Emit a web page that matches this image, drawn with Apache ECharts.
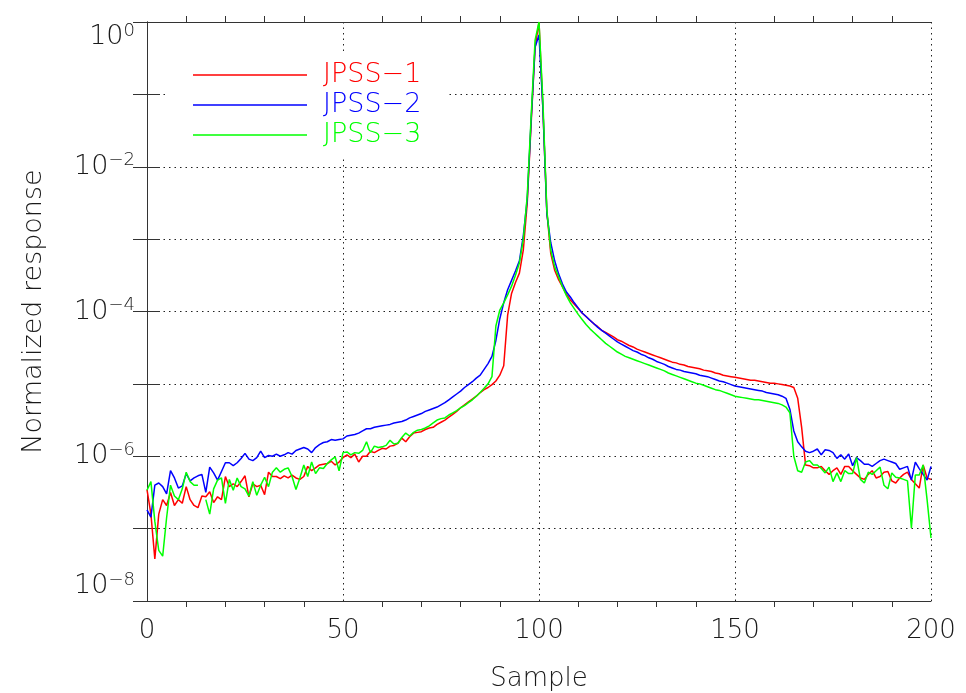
<!DOCTYPE html>
<html>
<head>
<meta charset="utf-8">
<title>Normalized response</title>
<style>
  html, body { margin: 0; padding: 0; background: #fff; }
  #main { width: 966px; height: 693px; }
</style>
</head>
<body>
<div id="main"></div>
<script src="https://cdn.jsdelivr.net/npm/echarts@6/dist/echarts.min.js"></script>
<script>
var jpss1Log = [
  -6.46, -6.8, -7.42, -6.8, -6.6, -6.68, -6.5, -6.68, -6.6, -6.65,
  -6.42, -6.6, -6.68, -6.71, -6.55, -6.56, -6.49, -6.64, -6.56, -6.6,
  -6.28, -6.42, -6.38, -6.42, -6.35, -6.27, -6.56, -6.38, -6.42, -6.4,
  -6.53, -6.22, -6.28, -6.28, -6.31, -6.27, -6.3, -6.26, -6.3, -6.32,
  -6.28, -6.14, -6.2, -6.16, -6.12, -6.11, -6.1, -6.07, -6.12, -6.08,
  -6.02, -5.98, -6.02, -5.97, -6.08, -6.0, -6.0, -5.93, -5.95, -5.92,
  -5.89, -5.9, -5.86, -5.85, -5.82, -5.75, -5.8, -5.73, -5.68, -5.67,
  -5.66, -5.63, -5.61, -5.6, -5.56, -5.53, -5.5, -5.46, -5.42, -5.38,
  -5.33, -5.29, -5.25, -5.21, -5.17, -5.12, -5.08, -5.05, -5.01, -4.96,
  -4.88, -4.75, -4.05, -3.75, -3.6, -3.47, -3.15, -2.5, -1.4, -0.35,
  0, -1.2, -2.62, -3.2, -3.43, -3.56, -3.66, -3.76, -3.84, -3.9,
  -3.96, -4.02, -4.07, -4.12, -4.17, -4.21, -4.26, -4.29, -4.32, -4.35,
  -4.39, -4.41, -4.44, -4.47, -4.49, -4.52, -4.54, -4.56, -4.58, -4.6,
  -4.62, -4.64, -4.66, -4.68, -4.7, -4.71, -4.73, -4.74, -4.76, -4.77,
  -4.78, -4.79, -4.81, -4.82, -4.83, -4.85, -4.86, -4.88, -4.89, -4.9,
  -4.91, -4.92, -4.93, -4.94, -4.95, -4.95, -4.96, -4.97, -4.98, -4.99,
  -4.99, -5.0, -5.01, -5.02, -5.03, -5.05, -5.2, -5.6, -6.12, -6.13,
  -6.16, -6.16, -6.14, -6.2, -6.25, -6.2, -6.16, -6.25, -6.14, -6.14,
  -6.2, -6.25, -6.3, -6.32, -6.25, -6.2, -6.3, -6.28, -6.22, -6.21,
  -6.34, -6.37, -6.3, -6.25, -6.22, -6.32, -6.38, -6.44, -6.12, -6.3,
  -6.32
];
var jpss2Log = [
  -6.74, -6.84, -6.4, -6.37, -6.42, -6.52, -6.2, -6.3, -6.44, -6.41,
  -6.24, -6.34, -6.3, -6.27, -6.25, -6.5, -6.15, -6.23, -6.33, -6.21,
  -6.09, -6.09, -6.13, -6.09, -6.03, -5.96, -6.04, -6.06, -6.02, -5.93,
  -6.02, -5.99, -6.0, -5.97, -6.0, -5.98, -5.95, -5.97, -5.92, -5.9,
  -5.88, -5.9, -5.95, -5.88, -5.84, -5.81, -5.8, -5.77, -5.78, -5.77,
  -5.76, -5.72, -5.71, -5.7, -5.68, -5.65, -5.62, -5.62, -5.6, -5.59,
  -5.58, -5.57, -5.56, -5.54, -5.53, -5.52, -5.5, -5.47, -5.45, -5.43,
  -5.41, -5.38, -5.36, -5.34, -5.32, -5.29, -5.26, -5.22, -5.18, -5.14,
  -5.1, -5.05, -5.01, -4.97, -4.92, -4.88, -4.8, -4.72, -4.62, -4.4,
  -4.1, -3.88, -3.7, -3.57, -3.44, -3.3, -2.95, -2.45, -1.35, -0.35,
  -0.18, -1.2, -2.65, -3.05, -3.3, -3.48, -3.62, -3.73, -3.8, -3.88,
  -3.95, -4.02, -4.07, -4.12, -4.17, -4.22, -4.26, -4.3, -4.34, -4.38,
  -4.42, -4.45, -4.48, -4.51, -4.54, -4.56, -4.59, -4.61, -4.64, -4.66,
  -4.69, -4.71, -4.73, -4.76, -4.78, -4.8, -4.81, -4.83, -4.84, -4.85,
  -4.86, -4.88, -4.89, -4.9, -4.92, -4.94, -4.96, -4.97, -4.99, -5.01,
  -5.03, -5.04, -5.05, -5.06, -5.07, -5.08, -5.09, -5.1, -5.12, -5.13,
  -5.14, -5.15, -5.17, -5.2, -5.35, -5.65, -5.8, -5.87, -5.93, -5.95,
  -5.93, -5.9, -5.98, -5.91, -5.92, -5.95, -6.03, -5.98, -6.04, -5.97,
  -6.13, -6.02, -6.06, -6.11, -6.11, -6.14, -6.1, -6.06, -6.04, -6.06,
  -6.08, -6.1, -6.18, -6.16, -6.14, -6.33, -6.08, -6.17, -6.25, -6.33,
  -6.14
];
var jpss3Log = [
  -6.47, -6.35, -6.9, -7.3, -7.38, -6.85, -6.4, -6.55, -6.6, -6.45,
  -6.22, -6.35, -6.4, -6.4, null, -6.6, -6.8, -6.45, -6.33, -6.3,
  -6.65, -6.32, -6.47, -6.3, -6.42, -6.45, -6.55, -6.35, -6.54, -6.4,
  -6.29, -6.42, -6.22, -6.16, -6.22, -6.18, -6.16, -6.28, -6.46, -6.3,
  -6.12, -6.28, -6.08, -6.24, -6.16, -6.17, -6.1, -6.05, -6.01, -6.2,
  -5.95, -5.94, -5.98, -5.95, -5.96, -5.92, -5.8, -5.95, -5.86, -5.88,
  -5.87, -5.85, -5.78, -5.83, -5.82, -5.74, -5.68, -5.72, -5.67, -5.64,
  -5.63, -5.61, -5.58, -5.54, -5.5, -5.48, -5.47, -5.43, -5.4, -5.37,
  -5.33, -5.3, -5.26, -5.22, -5.17, -5.12, -5.06, -5.0, -4.9, -4.2,
  -3.98, -3.88, -3.77, -3.65, -3.5, -3.33, -3.0, -2.4, -1.3, -0.25,
  0, -1.1, -2.6, -3.15, -3.38, -3.52, -3.66, -3.78, -3.88, -3.96,
  -4.04, -4.11, -4.18, -4.24, -4.29, -4.34, -4.39, -4.44, -4.48, -4.52,
  -4.56, -4.59, -4.62, -4.64, -4.66, -4.68, -4.7, -4.72, -4.74, -4.76,
  -4.78, -4.8, -4.82, -4.85, -4.87, -4.89, -4.91, -4.93, -4.95, -4.97,
  -4.99, -5.0, -5.02, -5.04, -5.06, -5.08, -5.09, -5.11, -5.13, -5.15,
  -5.17, -5.18, -5.19, -5.2, -5.21, -5.22, -5.22, -5.23, -5.24, -5.25,
  -5.26, -5.27, -5.29, -5.32, -5.4, -6.0, -6.2, -6.22, -6.08, -6.06,
  -6.12, -6.12, -6.17, -6.23, -6.15, -6.35, -6.23, -6.35, -6.2, -6.24,
  -6.24, -6.02, -6.32, -6.37, -6.22, -6.25, -6.2, -6.15, -6.4, -6.45,
  -6.23, -6.29, -6.3, -6.32, -6.34, -6.99, -6.26, -6.26, -6.12, -6.6,
  -7.13
];
var seriesNames = ['JPSS−1', 'JPSS−2', 'JPSS−3'];
var seriesColors = ['#ff0000', '#0000ff', '#00ff00'];
var xTicks = [0, 50, 100, 150, 200];

var FONT = 'DejaVu Sans';
var TXT = '#1a1a1a';

function toPairs(logs) {
  return logs.map(function (v, i) {
    return [i, v === null ? null : Math.pow(10, v)];
  });
}
var allLogs = [jpss1Log, jpss2Log, jpss3Log];

var chart = echarts.init(document.getElementById('main'));

var dotted = { color: '#222', width: 1, type: [1.5, 4] };

var option = {
  animation: false,
  backgroundColor: '#fff',
  textStyle: { fontFamily: FONT },
  grid: { left: 147, right: 35, top: 22, bottom: 92, containLabel: false, outerBoundsMode: 'none' },
  legend: {
    orient: 'vertical',
    left: 165,
    top: 54,
    padding: [6, 26, 6, 28],
    backgroundColor: '#fff',
    icon: 'rect',
    itemWidth: 114,
    itemHeight: 1.5,
    itemGap: 0,
    textStyle: { fontSize: 27, fontFamily: FONT, fontWeight: 200, lineHeight: 30, padding: [0, 0, 0, 11] },
    data: seriesNames.map(function (n, i) {
      return { name: n, textStyle: { color: seriesColors[i] } };
    })
  },
  xAxis: [{
    type: 'value',
    min: xTicks[0],
    max: xTicks[xTicks.length - 1],
    interval: 50,
    name: 'Sample',
    nameLocation: 'middle',
    nameGap: 65,
    nameTextStyle: { fontSize: 26, color: TXT, fontWeight: 200 },
    axisLine: { lineStyle: { color: '#333', width: 1 } },
    axisTick: { show: false },
    minorTick: { show: true, splitNumber: 5, length: 6, lineStyle: { color: '#333' } },
    axisLabel: { fontSize: 26, color: TXT, margin: 17, fontWeight: 200 },
    splitLine: { show: true, lineStyle: dotted }
  }, {
    type: 'value',
    position: 'top',
    min: 0, max: 200, interval: 50,
    axisLine: { lineStyle: { color: '#333', width: 1 } },
    axisTick: { show: false },
    minorTick: { show: true, splitNumber: 5, length: 6, lineStyle: { color: '#333' } },
    axisLabel: { show: false },
    splitLine: { show: false }
  }],
  yAxis: [{
    type: 'log',
    logBase: 10,
    min: 1e-8,
    max: 1,
    name: 'Normalized response',
    nameLocation: 'middle',
    nameGap: 100,
    nameTextStyle: { fontSize: 27, color: TXT, fontWeight: 200 },
    axisLine: { show: true, lineStyle: { color: '#333', width: 1 } },
    axisTick: { show: true, inside: true, length: 13, lineStyle: { color: '#333' } },
    axisLabel: {
      margin: 12,
      color: TXT,
      verticalAlignMaxLabel: 'top',
      verticalAlignMinLabel: 'bottom',
      formatter: function (v) {
        var e = Math.round(Math.log(v) / Math.LN10);
        if (e % 2 !== 0) return '';
        return '{b|10}{s|' + (e < 0 ? '−' : '') + Math.abs(e) + '}';
      },
      rich: {
        b: { fontSize: 27, color: TXT, fontFamily: FONT, fontWeight: 200, lineHeight: 30 },
        s: { fontSize: 18, color: TXT, fontFamily: FONT, fontWeight: 200, verticalAlign: 'top', lineHeight: 18 }
      }
    },
    splitLine: { show: true, lineStyle: dotted }
  }, {
    type: 'log',
    logBase: 10,
    min: 1e-8,
    max: 1,
    position: 'right',
    axisLine: { show: true, lineStyle: { color: '#333', width: 1 } },
    axisTick: { show: true, inside: true, length: 14, lineStyle: { color: '#333' } },
    axisLabel: { show: false },
    splitLine: { show: false }
  }],
  series: allLogs.map(function (logs, i) {
    return {
      name: seriesNames[i],
      type: 'line',
      xAxisIndex: 0,
      yAxisIndex: 0,
      symbol: 'none',
      connectNulls: false,
      data: toPairs(logs),
      lineStyle: { color: seriesColors[i], width: 1.5 },
      itemStyle: { color: seriesColors[i] },
      z: 3 + i
    };
  })
};

chart.setOption(option);
</script>
</body>
</html>
